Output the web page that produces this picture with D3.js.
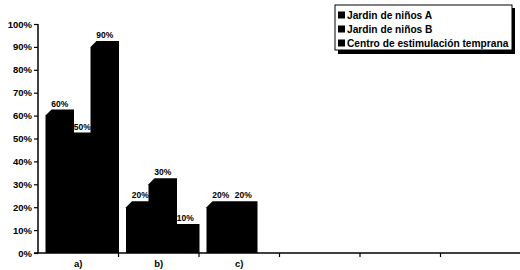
<!DOCTYPE html>
<html><head><meta charset="utf-8">
<script src="https://cdn.jsdelivr.net/npm/d3@7"></script>
<style>body{margin:0;background:#fff}svg{display:block;font-family:Arial,"Liberation Sans",sans-serif;font-weight:bold}</style>
</head><body><svg id="c" width="520" height="270"></svg>
<script>
const categories = ["a)", "b)", "c)", "", "", ""];
const seriesNames = ["Jardin de niños A", "Jardin de niños B", "Centro de estimulación temprana"];
const seriesA = [60, 20, 20, null, null, null];
const seriesB = [50, 30, 20, null, null, null];
const seriesC = [90, 10, 0, null, null, null];
const yTicks = [0, 10, 20, 30, 40, 50, 60, 70, 80, 90, 100];

const series = [seriesA, seriesB, seriesC];
const svg = d3.select("#c");
const x = d3.scaleBand().domain(d3.range(categories.length)).range([38, 521]).paddingInner(0).paddingOuter(0);
const y = d3.scaleLinear().domain([0, 100]).range([253, 24]);
const inner = d3.scaleBand().domain(d3.range(series.length)).range([7.5, 75]);
const depth = 6;

// bars
series.forEach((vals, si) => {
  vals.forEach((v, ci) => {
    if (v == null || v === 0) return;
    const x0 = x(ci) + inner(si), x1 = x0 + inner.bandwidth();
    const yt = y(v), yb = y(0);
    const pts = [[x0, yb], [x0, yt], [x0 + depth, yt - depth], [x1 + depth, yt - depth], [x1 + depth, yb], [x1, yb]];
    svg.append("path").attr("d", d3.line()(pts) + "Z").attr("fill", "#000");
  });
});
// value labels
series.forEach((vals, si) => {
  vals.forEach((v, ci) => {
    if (v == null || v === 0) return;
    const cx = x(ci) + inner(si) + inner.bandwidth() / 2 + depth / 2;
    svg.append("text").attr("x", cx).attr("y", y(v) - depth - 3).attr("text-anchor", "middle")
      .attr("font-size", 8.5).attr("fill", "#000").text(v + "%");
  });
});

// y axis
const yAxis = d3.axisLeft(y).tickValues(yTicks).tickFormat(d => d + "%").tickSize(4).tickPadding(2);
const gy = svg.append("g").attr("transform", "translate(38,0)").call(yAxis);
gy.select(".domain").attr("stroke", "#000").attr("stroke-width", 1.5).attr("d", "M0,24V253");
gy.selectAll(".tick line").attr("stroke", "#000").attr("stroke-width", 1.2);
gy.selectAll("text").attr("font-size", 9.5).attr("font-weight", "bold").attr("fill", "#000").attr("font-family", "Arial, Liberation Sans, sans-serif");

// x axis
const gx = svg.append("g").attr("transform", "translate(0,253)");
gx.append("line").attr("x1", 34).attr("x2", 520).attr("y1", 0).attr("y2", 0).attr("stroke", "#000").attr("stroke-width", 1.5);
gx.selectAll(".tk").data(d3.range(1, categories.length)).join("line")
  .attr("x1", d => x(d)).attr("x2", d => x(d)).attr("y1", 0).attr("y2", 4).attr("stroke", "#000").attr("stroke-width", 1.2);
gx.selectAll(".lb").data(categories).join("text")
  .attr("x", (d, i) => x(i) + x.bandwidth() / 2).attr("y", 14).attr("text-anchor", "middle")
  .attr("font-size", 9.5).attr("fill", "#000").text(d => d);

// legend
const lg = svg.append("g");
lg.append("rect").attr("x", 338).attr("y", 8).attr("width", 177).attr("height", 46).attr("fill", "#000");
lg.append("rect").attr("x", 335).attr("y", 5).attr("width", 177).attr("height", 45).attr("fill", "#fff").attr("stroke", "#000").attr("stroke-width", 1);
seriesNames.forEach((n, i) => {
  const cy = 15 + i * 14;
  lg.append("rect").attr("x", 338).attr("y", cy - 3.5).attr("width", 7).attr("height", 7).attr("fill", "#000");
  lg.append("text").attr("x", 347).attr("y", cy + 3.5).attr("font-size", 10.2).attr("fill", "#000").text(n);
});
</script></body></html>
